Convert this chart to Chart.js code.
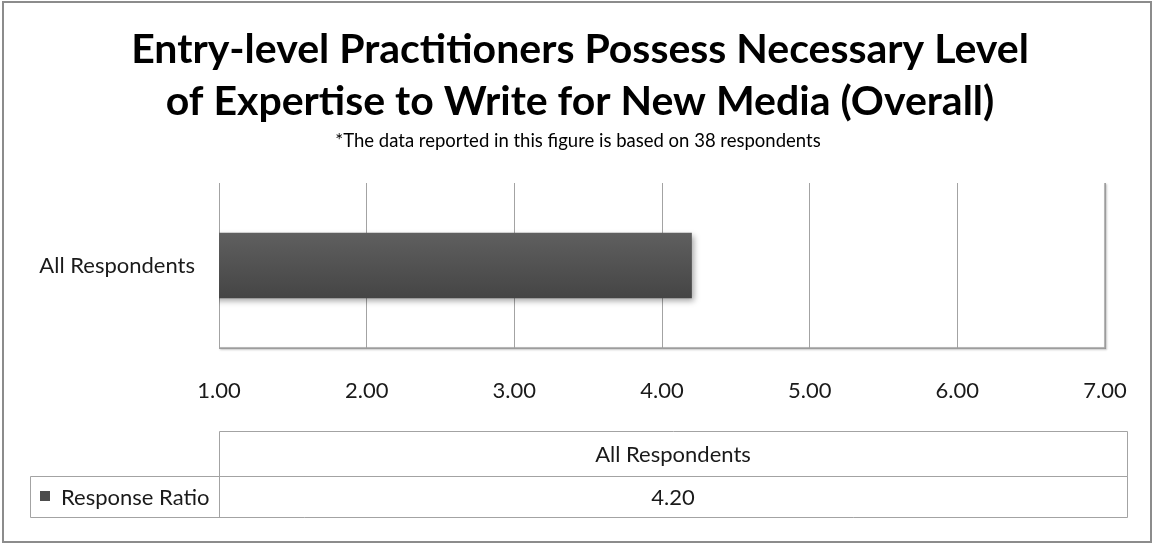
<!DOCTYPE html>
<html>
<head>
<meta charset="utf-8">
<title>Entry-level Practitioners – New Media Expertise</title>
<script src="https://cdn.jsdelivr.net/npm/chart.js@4/dist/chart.umd.min.js"></script>
<style>
  html, body { margin: 0; padding: 0; background: #ffffff; }
  #wrap { width: 1153px; height: 544px; position: relative; }
</style>
</head>
<body>
<div id="wrap"><canvas id="chart" width="1153" height="544"></canvas></div>
<script>
// ---- data ----
const categories = ['All Respondents'];
const seriesName = 'Response Ratio';
const responseRatio = [4.20];
const axisMin = 1;
const axisMax = 7;
const axisStep = 1;
const titleLines = [
  'Entry-level Practitioners Possess Necessary Level',
  'of Expertise to Write for New Media (Overall)'
];
const subtitleText = '*The data reported in this figure is based on 38 respondents';

// ---- look ----
const FONT = 'Lato, "Open Sans", sans-serif';
const TEXT = '#1a1a1a';
const GRID = '#a3a3a3';
const BAR_TOP = '#5f5f5f';
const BAR_BOTTOM = '#454545';
const BAR_THICKNESS = 65;
const LABEL_SIZE = 22;

// Frame and headline text
const headerPlugin = {
  id: 'header',
  beforeDraw(chart) {
    const { ctx, width, height } = chart;
    ctx.save();
    ctx.fillStyle = '#ffffff';
    ctx.fillRect(0, 0, width, height);
    ctx.strokeStyle = '#8c8c8c';
    ctx.lineWidth = 2;
    ctx.strokeRect(3, 2, width - 5, height - 4);
    ctx.fillStyle = '#000000';
    ctx.textAlign = 'center';
    ctx.textBaseline = 'alphabetic';
    ctx.font = 'bold 41px ' + FONT;
    ctx.fillText(titleLines[0], 580, 63);
    ctx.fillText(titleLines[1], 580, 115);
    ctx.font = '18.5px ' + FONT;
    ctx.fillText(subtitleText, 578, 147);
    ctx.restore();
  }
};

// Soft drop shadow under the bars
const shadowPlugin = {
  id: 'barShadow',
  beforeDatasetsDraw(chart) {
    const ctx = chart.ctx;
    ctx.save();
    ctx.shadowColor = 'rgba(0,0,0,0.35)';
    ctx.shadowBlur = 6;
    ctx.shadowOffsetX = 2;
    ctx.shadowOffsetY = 3;
  },
  afterDatasetsDraw(chart) {
    chart.ctx.restore();
  }
};

// Shaded right and bottom edges of the plot area
const plotEdgePlugin = {
  id: 'plotEdge',
  beforeDatasetsDraw(chart) {
    const { ctx, chartArea: a } = chart;
    ctx.save();
    ctx.strokeStyle = GRID;
    ctx.lineWidth = 1.5;
    ctx.shadowColor = 'rgba(0,0,0,0.3)';
    ctx.shadowBlur = 2;
    ctx.shadowOffsetX = 1;
    ctx.shadowOffsetY = 1;
    ctx.beginPath();
    ctx.moveTo(a.right, a.top);
    ctx.lineTo(a.right, a.bottom);
    ctx.lineTo(a.left, a.bottom);
    ctx.stroke();
    ctx.restore();
  }
};

// Data table under the axis
const dataTablePlugin = {
  id: 'dataTable',
  afterDraw(chart) {
    const { ctx } = chart;
    const xs = chart.scales.x;
    const left = xs.getPixelForValue(axisMin);
    const right = chart.chartArea.right + 22;
    const legendLeft = 30;
    const rowTop = 431, rowMid = 476, rowBottom = 517;
    ctx.save();
    ctx.strokeStyle = GRID;
    ctx.lineWidth = 1;
    ctx.beginPath();
    ctx.rect(left + 0.5, rowTop + 0.5, right - left, rowMid - rowTop);
    ctx.rect(legendLeft + 0.5, rowMid + 0.5, right - legendLeft, rowBottom - rowMid);
    ctx.moveTo(left + 0.5, rowMid);
    ctx.lineTo(left + 0.5, rowBottom);
    ctx.stroke();

    ctx.fillStyle = TEXT;
    ctx.font = LABEL_SIZE + 'px ' + FONT;
    ctx.textBaseline = 'middle';
    ctx.textAlign = 'center';
    const colW = (right - left) / categories.length;
    categories.forEach((c, i) => {
      const cx = left + colW * (i + 0.5);
      ctx.fillText(c, cx, (rowTop + rowMid) / 2 + 1);
      ctx.fillText(responseRatio[i].toFixed(2), cx, (rowMid + rowBottom) / 2 + 1);
    });
    ctx.fillStyle = '#4d4d4d';
    ctx.fillRect(40, 491, 10, 10);
    ctx.fillStyle = TEXT;
    ctx.textAlign = 'left';
    ctx.fillText(seriesName, 61, (rowMid + rowBottom) / 2 + 1);
    ctx.restore();
  }
};

function barGradient(context) {
  const chart = context.chart;
  if (!chart.chartArea) return BAR_BOTTOM;
  const ys = chart.scales.y;
  const c = ys.getPixelForValue(context.dataIndex);
  const g = chart.ctx.createLinearGradient(0, c - BAR_THICKNESS / 2, 0, c + BAR_THICKNESS / 2);
  g.addColorStop(0, BAR_TOP);
  g.addColorStop(1, BAR_BOTTOM);
  return g;
}

new Chart(document.getElementById('chart'), {
  type: 'bar',
  data: {
    labels: categories,
    datasets: [{
      label: seriesName,
      data: responseRatio,
      backgroundColor: barGradient,
      borderWidth: 0,
      barThickness: BAR_THICKNESS
    }]
  },
  options: {
    indexAxis: 'y',
    responsive: false,
    animation: false,
    devicePixelRatio: 1,
    layout: { padding: { top: 183, right: 48, bottom: 0, left: 0 } },
    plugins: {
      legend: { display: false },
      title: { display: false },
      tooltip: { enabled: false }
    },
    scales: {
      x: {
        type: 'linear',
        min: axisMin,
        max: axisMax,
        ticks: {
          stepSize: axisStep,
          padding: 30,
          color: TEXT,
          font: { family: FONT, size: LABEL_SIZE },
          callback: v => Number(v).toFixed(2)
        },
        grid: { color: GRID, drawTicks: false, lineWidth: 1 },
        border: { display: true, color: GRID },
        afterFit(scale) {
          scale.height = 196;
          scale.paddingLeft = 0;
          scale.paddingRight = 0;
        }
      },
      y: {
        type: 'category',
        ticks: {
          padding: 24,
          color: TEXT,
          font: { family: FONT, size: LABEL_SIZE }
        },
        grid: { display: false, drawTicks: false },
        border: { display: true, color: GRID },
        afterFit(scale) { scale.width = 219; }
      }
    }
  },
  plugins: [headerPlugin, plotEdgePlugin, shadowPlugin, dataTablePlugin]
});
</script>
</body>
</html>
